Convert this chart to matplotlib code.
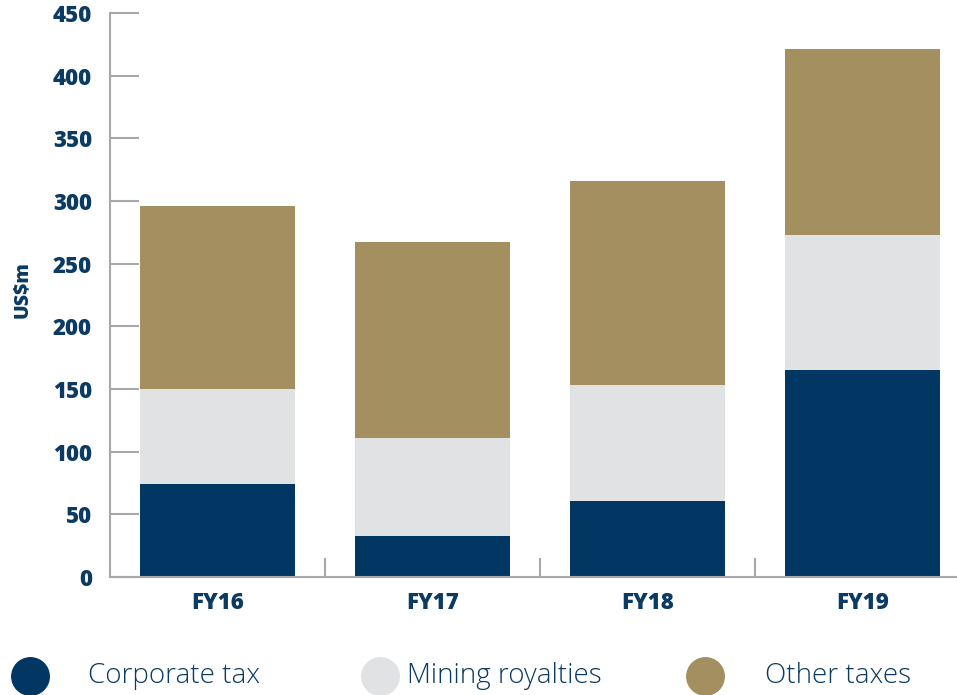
import matplotlib
matplotlib.use("Agg")
import matplotlib.pyplot as plt
from matplotlib.lines import Line2D
import numpy as np

categories = ["FY16", "FY17", "FY18", "FY19"]
corporate_tax = [74, 33, 61, 165]
mining_royalties = [76, 78, 92, 108]
other_taxes = [146, 156, 163, 148]
series_names = ["Corporate tax", "Mining royalties", "Other taxes"]
colors = ["#023764", "#e1e2e4", "#a38f60"]
yticks = [0, 50, 100, 150, 200, 250, 300, 350, 400, 450]

text_color = "#0b3a63"
axis_color = "#a8a8a8"

plt.rcParams['font.family'] = ['Open Sans', 'DejaVu Sans']

fig = plt.figure(figsize=(9.57, 6.95), dpi=100)
ax = fig.add_axes([110/957, 1-577/695, 860/957, 564/695])

x = np.arange(len(categories))
w = 0.72
b1 = np.array(corporate_tax)
b2 = b1 + np.array(mining_royalties)
ax.bar(x, corporate_tax, w, color=colors[0], zorder=2)
ax.bar(x, mining_royalties, w, bottom=b1, color=colors[1], zorder=2)
ax.bar(x, other_taxes, w, bottom=b2, color=colors[2], zorder=2)

ax.set_xlim(-0.5, len(categories)-0.5)
ax.set_ylim(0, 450)
ax.set_yticks(yticks)
ax.set_yticklabels([str(v) for v in yticks], fontsize=16, fontweight='heavy', color=text_color)
ax.set_xticks(x)
ax.set_xticklabels(categories, fontsize=16, fontweight='heavy', color=text_color)
ax.set_xticks(x[:-1] + 0.5, minor=True)
ax.tick_params(axis='x', which='major', length=0, pad=10)
ax.tick_params(axis='x', which='minor', direction='in', length=14, width=1.5, color=axis_color)
ax.tick_params(axis='y', direction='in', length=21, width=1.5, color=axis_color, pad=13)

for s in ['top', 'right']:
    ax.spines[s].set_visible(False)
for s in ['left', 'bottom']:
    ax.spines[s].set_color(axis_color)
    ax.spines[s].set_linewidth(1.5)

fig.text(22/957, 1-290/695, "US$m", rotation=90, ha='center', va='center',
         fontsize=14, fontweight='heavy', color=text_color)

legend_marker_x = [30, 380, 705]
legend_text_x = [88, 407, 765]
ly = 1 - 676/695
for i in range(3):
    fig.add_artist(Line2D([legend_marker_x[i]/957], [ly], marker='o', markersize=27,
                          color=colors[i], linestyle='none', transform=fig.transFigure))
    fig.text(legend_text_x[i]/957, ly, series_names[i], ha='left', va='center',
             fontsize=20, fontweight='light', color=text_color)

fig.savefig("out.png", dpi=100)
